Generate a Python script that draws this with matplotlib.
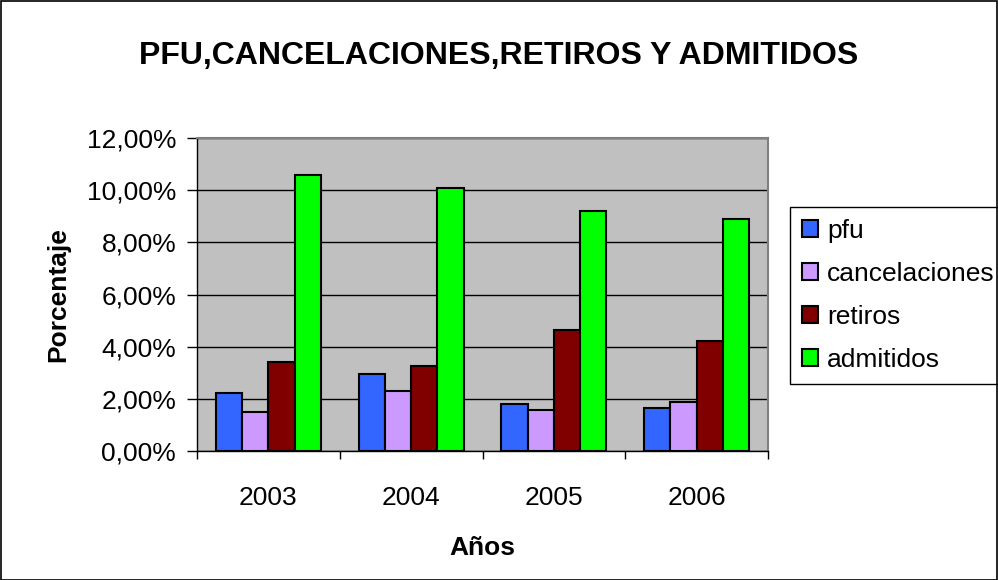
import matplotlib
matplotlib.use("Agg")
import matplotlib.pyplot as plt
import numpy as np
from matplotlib.ticker import FuncFormatter, MultipleLocator
from matplotlib.patches import Rectangle

years = ["2003", "2004", "2005", "2006"]
series_names = ["pfu", "cancelaciones", "retiros", "admitidos"]
pfu = [2.23, 2.96, 1.81, 1.65]
cancelaciones = [1.50, 2.31, 1.58, 1.88]
retiros = [3.42, 3.27, 4.62, 4.23]
admitidos = [10.58, 10.08, 9.19, 8.88]
colors = ["#3366FF", "#CC99FF", "#800000", "#00FF00"]

plt.rcParams['font.family'] = ['Liberation Sans', 'DejaVu Sans']

fig = plt.figure(figsize=(9.98, 5.80), dpi=100)
fig.patches.append(Rectangle((0.5/998, 0.5/580), 1 - 1.5/998, 1 - 1.5/580, transform=fig.transFigure,
                             fill=False, edgecolor='black', linewidth=1.2, zorder=10))

ax = fig.add_axes([197/998, (580-451)/580, 571/998, 313/580])
ax.set_facecolor("#C0C0C0")

x = np.arange(len(years))
bw = 0.184
data = [pfu, cancelaciones, retiros, admitidos]
for i, (vals, name, c) in enumerate(zip(data, series_names, colors)):
    ax.bar(x + (i - 1.5) * bw, vals, width=bw, color=c, edgecolor='black', linewidth=1.5,
           label=name, zorder=3)

ax.set_xlim(-0.5, 3.5)
ax.set_ylim(0, 12)
ax.yaxis.set_major_locator(MultipleLocator(2))
ax.yaxis.set_major_formatter(FuncFormatter(lambda v, p: f"{v:.2f}%".replace('.', ',')))
ax.grid(axis='y', color='black', linewidth=1, zorder=1)
ax.set_xticks(x)
ax.set_xticklabels(years)
ax.set_xticks(np.arange(-0.5, 4, 1), minor=True)
ax.tick_params(axis='x', which='major', length=0, labelsize=19, pad=25)
ax.tick_params(axis='x', which='minor', length=6, direction='out', width=1)
ax.tick_params(axis='y', length=7, direction='out', width=1, labelsize=19, pad=8)

for s in ['top', 'right']:
    ax.spines[s].set_color('#808080')
    ax.spines[s].set_linewidth(1.5)
for s in ['left', 'bottom']:
    ax.spines[s].set_color('black')
    ax.spines[s].set_linewidth(1)

ax.set_ylabel("Porcentaje", fontsize=19, fontweight='bold', labelpad=12)
ax.set_xlabel("Años", fontsize=19, fontweight='bold', labelpad=19)

fig.text(0.5, 1 - 56/580, "PFU,CANCELACIONES,RETIROS Y ADMITIDOS", ha='center', va='center',
         fontsize=23, fontweight='bold')

leg = fig.legend(loc='upper left', bbox_to_anchor=(790/998, 1 - 207/580), fontsize=19,
                 frameon=True, fancybox=False, edgecolor='black', framealpha=1,
                 handlelength=0.6, handleheight=0.6, handletextpad=0.35, labelspacing=0.72,
                 borderpad=0.45, borderaxespad=0)
leg.get_frame().set_linewidth(1)

fig.savefig("out.png", dpi=100)
